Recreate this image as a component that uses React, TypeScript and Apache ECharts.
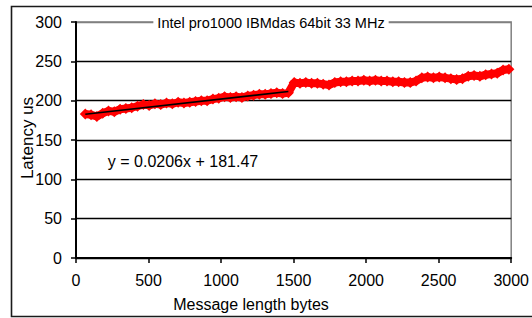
import React, { useEffect, useRef } from "react";
import * as echarts from "echarts";

// Message length (bytes) of each measurement
const messageLengths = [
  64, 104, 144, 184, 224, 264, 304, 344, 384, 424, 464, 504, 544, 584, 624, 664, 704, 744,
  784, 824, 864, 904, 944, 984, 1024, 1064, 1104, 1144, 1184, 1224, 1264, 1304, 1344, 1384,
  1424, 1464,
  1504, 1544, 1584, 1624, 1664, 1704, 1744, 1784, 1824, 1864, 1904, 1944, 1984, 2024, 2064,
  2104, 2144, 2184, 2224, 2264, 2304, 2344, 2384, 2424, 2464, 2504, 2544, 2584, 2624, 2664,
  2704, 2744, 2784, 2824, 2864, 2904, 2944, 2984,
];

// Latency (us)
const latencies = [
  183, 182, 180, 184, 187, 186, 189, 190, 191, 193, 195, 194, 196, 195, 197, 196, 198, 197,
  198, 199, 200, 200, 202, 203, 205, 204, 205, 204, 206, 207, 208, 208, 209, 210,
  209, 210,
  223, 222, 223, 222, 222, 221, 220, 223, 224, 224, 225, 225, 226, 225, 226,
  225, 225, 224, 224, 223, 223, 225, 229, 230, 229, 230, 229, 228, 227, 228,
  231, 232, 231, 233, 234, 235, 239, 240,
];

// Linear trend line (stated on chart) over the single-packet range
const trendSlope = 0.0206;
const trendIntercept = 181.47;
const trendRange = [64, 1464];
const trendLabel = "y = 0.0206x + 181.47";

const xTicks = [0, 500, 1000, 1500, 2000, 2500, 3000];
const yTicks = [0, 50, 100, 150, 200, 250, 300];

const chartTitle = "Intel pro1000 IBMdas 64bit 33 MHz";
const xTitle = "Message length bytes";
const yTitle = "Latency us";

const FONT = '"Liberation Sans", Arial, sans-serif';

export default function App() {
  const ref = useRef<HTMLDivElement>(null);

  useEffect(() => {
    if (!ref.current) return;
    const chart = echarts.init(ref.current, null, { renderer: "svg" });

    const points = messageLengths.map((x, i) => [x, latencies[i]]);
    const trend = trendRange.map((x) => [x, trendIntercept + trendSlope * x]);

    const yGridColors = yTicks.map((_, i) => (i === yTicks.length - 1 ? "#808080" : "#000"));

    chart.setOption({
      animation: false,
      backgroundColor: "#fff",
      grid: {
        left: 76,
        top: 22,
        width: 436,
        height: 236,
        show: true,
        borderColor: "#808080",
        borderWidth: 1.5,
        backgroundColor: "#fff",
      },
      xAxis: {
        type: "value",
        min: xTicks[0],
        max: xTicks[xTicks.length - 1],
        interval: 500,
        axisLine: { show: true, lineStyle: { color: "#000", width: 2 } },
        axisTick: { show: true, inside: false, length: 5, lineStyle: { color: "#000", width: 1.5 } },
        axisLabel: {
          color: "#000",
          fontSize: 16,
          fontFamily: FONT,
          margin: 14,
          formatter: (v: number) => String(v),
        },
        splitLine: { show: false },
      },
      yAxis: {
        type: "value",
        min: yTicks[0],
        max: yTicks[yTicks.length - 1],
        interval: 50,
        axisLine: { show: true, lineStyle: { color: "#000", width: 2 } },
        axisTick: { show: true, inside: false, length: 5, lineStyle: { color: "#000", width: 1.5 } },
        axisLabel: {
          color: "#000",
          fontSize: 16,
          fontFamily: FONT,
          margin: 14,
          formatter: (v: number) => String(v),
        },
        splitLine: { show: true, lineStyle: { color: yGridColors, width: 1.3 } },
      },
      series: [
        {
          type: "line",
          data: points,
          symbol: "diamond",
          symbolSize: 11,
          itemStyle: { color: "#ff0000" },
          lineStyle: { color: "#ff0000", width: 8 },
          z: 3,
        },
        {
          type: "line",
          data: trend,
          symbol: "none",
          lineStyle: { color: "#000", width: 1.6 },
          z: 4,
        },
      ],
      graphic: [
        {
          type: "rect",
          shape: { x: 11.5, y: 6.5, width: 530, height: 310 },
          style: { fill: "none", stroke: "#1a1a1a", lineWidth: 1.6 },
          z: 1,
        },
        {
          type: "text",
          x: 271,
          y: 23,
          z: 100,
          style: {
            text: chartTitle,
            font: `14.5px ${FONT}`,
            fill: "#000",
            align: "center",
            verticalAlign: "middle",
            backgroundColor: "#fff",
            padding: [2, 4],
          },
        },
        {
          type: "text",
          x: 183,
          y: 161,
          z: 100,
          style: {
            text: trendLabel,
            font: `16px ${FONT}`,
            fill: "#000",
            align: "center",
            verticalAlign: "middle",
          },
        },
        {
          type: "text",
          x: 251,
          y: 304,
          z: 100,
          style: {
            text: xTitle,
            font: `16px ${FONT}`,
            fill: "#000",
            align: "center",
            verticalAlign: "middle",
          },
        },
        {
          type: "text",
          x: 27,
          y: 138,
          rotation: Math.PI / 2,
          z: 100,
          style: {
            text: yTitle,
            font: `17px ${FONT}`,
            fill: "#000",
            align: "center",
            verticalAlign: "middle",
          },
        },
      ],
    });

    return () => chart.dispose();
  }, []);

  return (
    <div
      ref={ref}
      style={{ position: "fixed", left: 0, top: 0, width: 532, height: 318, background: "#fff" }}
    />
  );
}
